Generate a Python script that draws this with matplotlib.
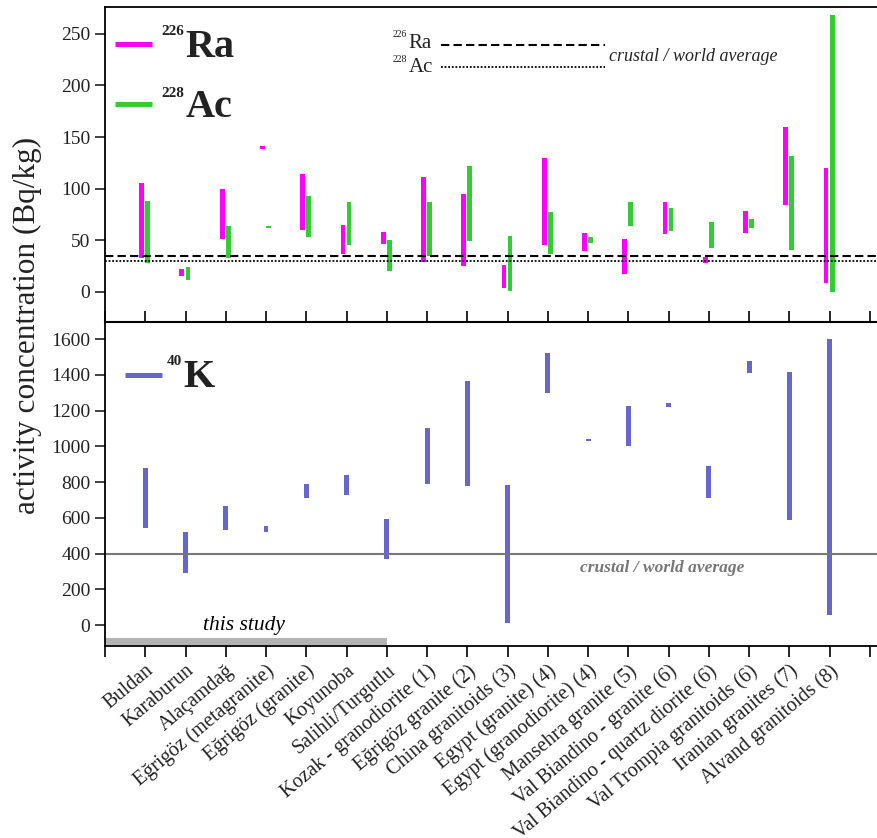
import numpy as np
import matplotlib
matplotlib.use('Agg')
import matplotlib.pyplot as plt

plt.rcParams['font.family'] = ['Liberation Serif', 'DejaVu Serif']
plt.rcParams['axes.linewidth'] = 1.3

sites = ['Buldan', 'Karaburun', 'Alaçamdağ', 'Eğrigöz (metagranite)', 'Eğrigöz (granite)',
         'Koyunoba', 'Salihli/Turgutlu', 'Kozak - granodiorite (1)', 'Eğrigöz granite (2)',
         'China granitoids (3)', 'Egypt (granite) (4)', 'Egypt (granodiorite) (4)',
         'Mansehra granite (5)', 'Val Biandino - granite (6)', 'Val Biandino - quartz diorite (6)',
         'Val Trompia granitoids (6)', 'Iranian granites (7)', 'Alvand granitoids (8)']

# min / max ranges (Bq/kg)
ra_lo = [33, 15.5, 51.5, 138.5, 60, 37, 46.5, 29, 25, 4, 45.5, 39, 17.5, 56, 28, 57, 84.5, 8]
ra_hi = [105.5, 22, 100, 141, 114, 65, 58, 111, 95, 26, 130, 57, 51, 87, 34, 78, 160, 120]
ac_lo = [28, 11.5, 33, 62, 53.5, 45.5, 20.5, 35, 49.5, 1, 37, 47.5, 64, 59, 42.5, 62, 40, 0]
ac_hi = [88, 23.5, 64, 64, 93, 87, 50, 87, 122, 54, 77.5, 53, 87, 81, 68, 70, 132, 268]
k_lo = [545, 293, 534, 521, 713, 730, 371, 791, 780, 13, 1301, 1032, 1004, 1223, 713, 1413, 590, 58]
k_hi = [879, 521, 666, 554, 790, 840, 594, 1103, 1366, 784, 1523, 1042, 1226, 1243, 890, 1477, 1417, 1602]

ra_avg = 35
ac_avg = 30
k_avg = 400
n_this_study = 7

c_ra = '#ff00ff'
c_ac = '#33cc33'
c_k = '#6666cc'
txt = '#222222'

x = np.arange(1, len(sites) + 1)
ra_lo, ra_hi = np.array(ra_lo), np.array(ra_hi)
ac_lo, ac_hi = np.array(ac_lo), np.array(ac_hi)
k_lo, k_hi = np.array(k_lo), np.array(k_hi)

fig = plt.figure(figsize=(8.78, 8.38), dpi=100)
ax1 = fig.add_axes([0.1196, 0.6158, 0.8804, 0.3753])
ax2 = fig.add_axes([0.1196, 0.2291, 0.8804, 0.3867])

w = 0.12
ax1.bar(x - 0.09, ra_hi - ra_lo, bottom=ra_lo, width=w, color=c_ra, linewidth=0)
ax1.bar(x + 0.06, ac_hi - ac_lo, bottom=ac_lo, width=w, color=c_ac, linewidth=0)
ax1.axhline(ra_avg, color='black', lw=1.5, ls=(0, (4, 2)))
ax1.axhline(ac_avg, color='black', lw=1.3, ls=(0, (1, 1)))

ax2.bar(x, k_hi - k_lo, bottom=k_lo, width=w, color=c_k, linewidth=0)
ax2.axhline(k_avg, color='#777777', lw=1.5)
ax2.fill_between([0, n_this_study], -112, -74, color='#b3b3b3', linewidth=0)

for ax in (ax1, ax2):
    ax.set_xlim(0, 19.2)
    ax.spines['right'].set_visible(False)
    ax.tick_params(axis='y', direction='out', length=7, width=1.2, labelsize=14, colors=txt)

ax1.set_ylim(-29.4, 275.7)
ax1.set_yticks([0, 50, 100, 150, 200, 250])
ax1.set_xticks([])
ax1.spines['bottom'].set_visible(False)

ax2.set_ylim(-117.6, 1697)
ax2.set_yticks(range(0, 1601, 200))
ax2.set_xticks(range(0, 20))
ax2.set_xticklabels([''] + sites + [''], rotation=40, ha='right', va='top',
                    rotation_mode='anchor', fontsize=14.5, color=txt)
ax2.tick_params(axis='x', direction='out', length=8, width=1.2, top=True, pad=3)
ax2.spines['top'].set_linewidth(1.5)


def iso_label(ax, x0, y_sup, y_main, mass, elem, s_sup, s_main, weight='normal'):
    ax.text(x0, y_sup, mass, transform=ax.transAxes, ha='right', va='baseline',
            fontsize=s_sup, fontweight=weight, color=txt)
    ax.text(x0 + 0.002, y_main, elem, transform=ax.transAxes, ha='left', va='baseline',
            fontsize=s_main, fontweight=weight, color=txt)


# main legends
ax1.plot([0.013, 0.061], [0.884, 0.884], color=c_ra, lw=3.6, transform=ax1.transAxes, solid_capstyle='butt')
ax1.plot([0.013, 0.061], [0.693, 0.693], color=c_ac, lw=3.6, transform=ax1.transAxes, solid_capstyle='butt')
iso_label(ax1, 0.102, 0.9126, 0.8426, '226', 'Ra', 11, 29, 'bold')
iso_label(ax1, 0.102, 0.7164, 0.6528, '228', 'Ac', 11, 29, 'bold')

ax2.plot([0.026, 0.074], [0.836, 0.836], color=c_k, lw=3.6, transform=ax2.transAxes, solid_capstyle='butt')
iso_label(ax2, 0.0996, 0.867, 0.800, '40', 'K', 11, 29, 'bold')

# average-line legend in top panel
ax1.plot([0.4347, 0.6468], [0.881, 0.881], color='black', lw=1.5, ls=(0, (4, 2)), transform=ax1.transAxes)
ax1.plot([0.4347, 0.6468], [0.812, 0.812], color='black', lw=1.3, ls=(0, (1, 1)), transform=ax1.transAxes)
iso_label(ax1, 0.3907, 0.907, 0.872, '226', 'Ra', 7, 15)
iso_label(ax1, 0.3907, 0.828, 0.796, '228', 'Ac', 7, 15)
ax1.text(0.652, 0.83, 'crustal / world average', transform=ax1.transAxes, ha='left', va='baseline',
         fontsize=13, fontstyle='italic', color=txt)

ax2.text(0.6145, 0.229, 'crustal / world average', transform=ax2.transAxes, ha='left', va='baseline',
         fontsize=12.5, fontstyle='italic', fontweight='bold', color='#777777')
ax2.text(0.18, 0.049, 'this study', transform=ax2.transAxes, ha='center', va='baseline',
         fontsize=15.5, fontstyle='italic', color='black')

fig.text(0.031, 0.612, 'activity concentration (Bq/kg)', rotation=90, ha='center', va='center',
         fontsize=22.5, color=txt)

plt.savefig('out.png', dpi=100)
